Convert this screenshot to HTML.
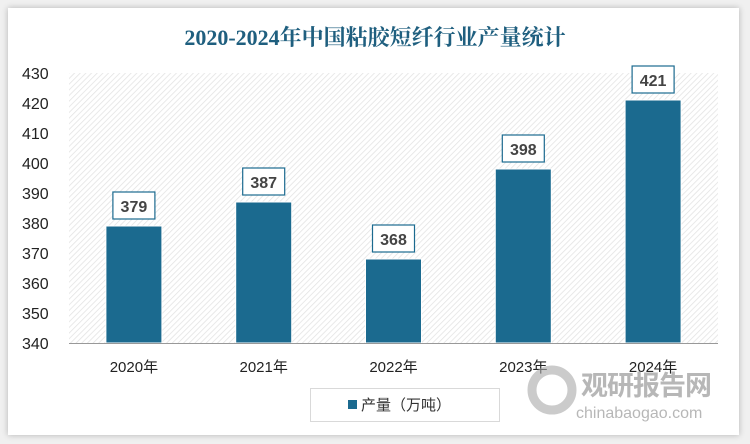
<!DOCTYPE html>
<html><head><meta charset="utf-8"><style>
body{margin:0;width:750px;height:444px;background:#f0f0f0;overflow:hidden;font-family:"Liberation Sans","Noto Sans CJK SC",sans-serif}
#card{position:absolute;left:8px;top:8px;width:731px;height:427px;background:#fff;box-shadow:0 0 6px rgba(0,0,0,.25)}
</style></head><body>
<div id="card"></div>
<svg id="chart" width="750" height="444" style="position:absolute;left:0;top:0">
<defs><pattern id="hatch" width="4" height="4" patternUnits="userSpaceOnUse" patternTransform="rotate(45)"><rect width="4" height="4" fill="#fff"/><line x1="0" y1="0" x2="0" y2="4" stroke="#e2e2e2" stroke-width="1.5"/></pattern></defs>
<text x="375" y="45" text-anchor="middle" font-family="'Liberation Serif','Noto Serif CJK SC',serif" font-weight="bold" font-size="22" fill="#1f5f7f">2020-2024年中国粘胶短纤行业产量统计</text>
<rect x="69" y="73" width="649" height="270" fill="url(#hatch)"/>
<g id="yaxis"></g><g id="bars"></g>
<line x1="69" y1="343.5" x2="718" y2="343.5" stroke="#999" stroke-width="1"/>
<g>
<rect x="310.5" y="388.5" width="189" height="33" fill="#fff" stroke="#d9d9d9"/>
<rect x="348" y="400" width="9" height="9" fill="#1b6a8f"/>
<text x="361" y="410" font-size="15" fill="#333">产量（万吨）</text>
</g>
<g opacity="0.6">
<circle cx="552" cy="390" r="20" fill="none" stroke="#aaa" stroke-width="9"/>
<text x="581" y="395" font-size="27" font-weight="bold" fill="#888" letter-spacing="-1">观研报告网</text>
<text x="576" y="418" font-size="16" fill="#888">chinabaogao.com</text>
</g>
</svg>
<script>
const categories=["2020年","2021年","2022年","2023年","2024年"];
const values=[379,387,368,398,421];
const yTicks=[340,350,360,370,380,390,400,410,420,430];
const NS="http://www.w3.org/2000/svg";
const x0=69,x1=718,yMin=340,yMax=430,py0=343,py1=73;
const band=(x1-x0)/categories.length;
function y(v){return py0-(v-yMin)/(yMax-yMin)*(py0-py1);}
function xc(i){return x0+band*(i+0.5);}
function mk(t,a,p){const e=document.createElementNS(NS,t);for(const k in a)e.setAttribute(k,a[k]);p.appendChild(e);return e;}
const ya=document.getElementById('yaxis'),bg=document.getElementById('bars');
yTicks.forEach(v=>{const t=mk('text',{x:22,y:y(v)+6,'font-size':16,fill:'#222'},ya);t.textContent=v;

});
categories.forEach((c,i)=>{
const v=values[i],cx=xc(i),w=56;
const r=mk('rect',{x:cx-w/2,y:y(v),width:w,height:py0-y(v),fill:'#1b6a8f',stroke:'#fff','stroke-width':1},bg);


const b=mk('rect',{x:cx-21,y:y(v)-34,width:42,height:27,fill:'#fff',stroke:'#1b6a8f','stroke-width':1.2},bg);


const t=mk('text',{x:cx,y:y(v)-14,'text-anchor':'middle','font-size':16,'font-weight':'bold',fill:'#444'},bg);t.textContent=v;


const l=mk('text',{x:cx,y:372,'text-anchor':'middle','font-size':15,fill:'#222'},bg);l.textContent=c;


});
</script>
</body></html>
